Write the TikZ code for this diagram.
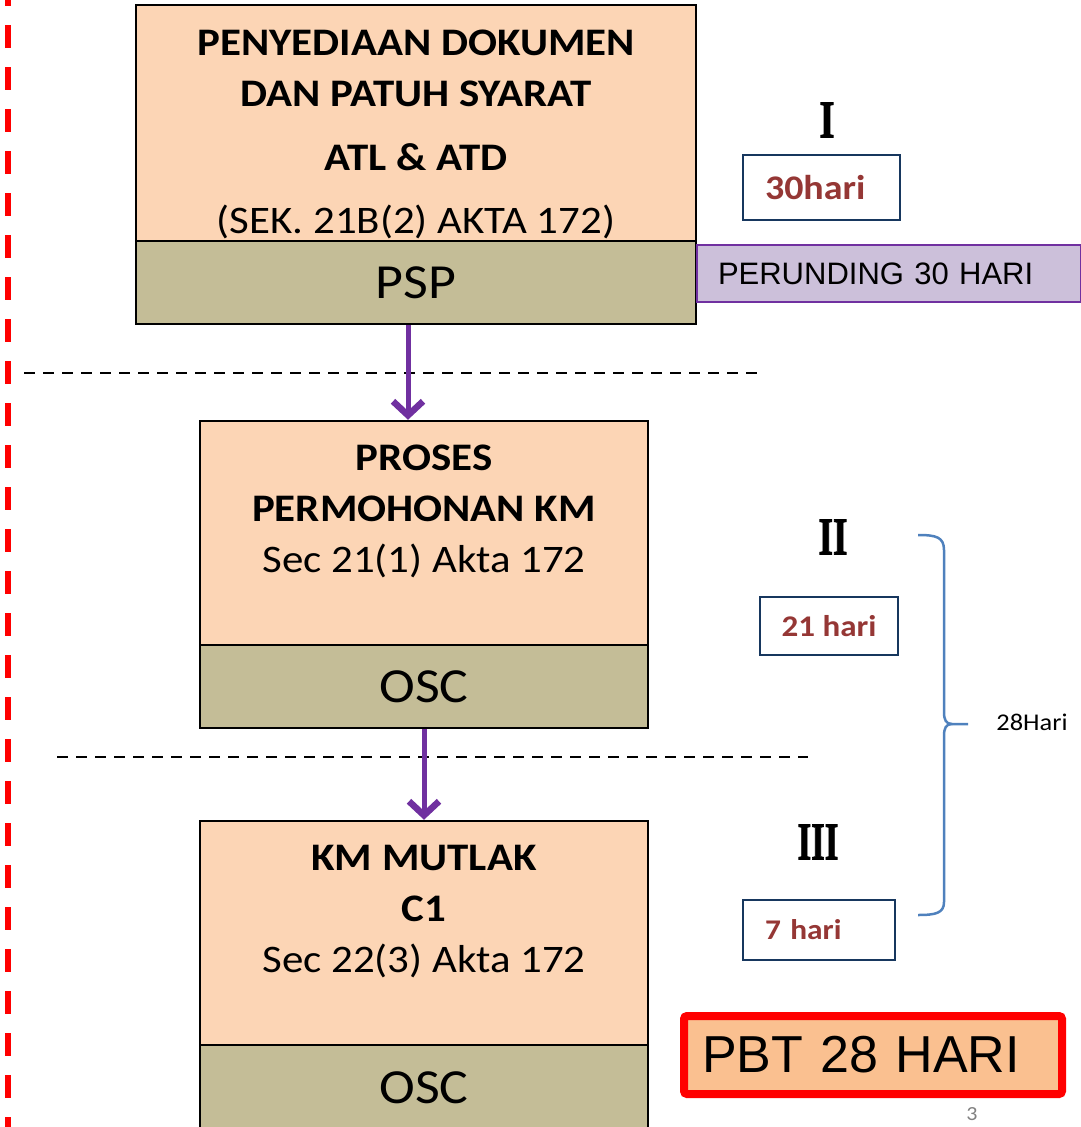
\documentclass[tikz,border=0pt]{standalone}
\usepackage{fontspec}
\setmainfont{Carlito}[FakeStretch=1.1]
\newfontfamily\arialfont{Liberation Sans}
\newfontfamily\numeralfont[FakeBold=2]{Liberation Serif Bold}
\usetikzlibrary{arrows.meta}

\definecolor{boxpeach}{HTML}{FCD5B5}
\definecolor{agencyolive}{HTML}{C4BD97}
\definecolor{lavender}{HTML}{CCC0DA}
\definecolor{flowpurple}{HTML}{7030A0}
\definecolor{harired}{HTML}{953735}
\definecolor{harinavy}{HTML}{17375E}
\definecolor{bracecol}{HTML}{4F81BD}
\definecolor{pbtorange}{HTML}{FAC090}

\tikzset{
  stepbox/.style={draw=black, line width=2.5pt, fill=boxpeach, inner sep=0pt},
  steptext/.style={anchor=north, align=center, inner sep=0pt,
    font=\fontsize{39pt}{51pt}\selectfont},
  agencybox/.style={draw=black, line width=2.5pt, fill=agencyolive, inner sep=0pt,
    font=\fontsize{49pt}{49pt}\selectfont},
  haribox/.style={draw=harinavy, line width=2.5pt, fill=white, text=harired,
    inner ysep=0pt, font=\bfseries\fontsize{30pt}{30pt}\selectfont},
  numeral/.style={inner sep=0pt, font=\numeralfont\fontsize{53pt}{53pt}\selectfont},
  flow/.style={draw=flowpurple, line width=5pt,
    -{Straight Barb[length=14pt,width=30pt,line width=6.5pt]}},
  separator/.style={line width=2.5pt, dash pattern=on 11pt off 8pt},
}

\begin{document}
\begin{tikzpicture}[x=1pt,y=-1pt]
\clip (0,0) rectangle (1081,1127);

% red margin line
\draw[red, line width=6pt, dash pattern=on 23pt off 19pt] (8,-17) -- (8,1140);

% step I
\node[stepbox, minimum width=560pt, minimum height=236pt] (dokumen) at (416,123) {};
\node[steptext] (dokumenText) at (416,30) {\bfseries PENYEDIAAN DOKUMEN\\ \bfseries DAN PATUH SYARAT\\[13pt] \bfseries ATL \& ATD\\[12pt] (SEK. 21B(2) AKTA 172)};
\node[agencybox, minimum width=560pt, minimum height=83pt] (psp) at (416,282.5) {PSP};
\node[draw=flowpurple, line width=2pt, fill=lavender, anchor=west, minimum height=57pt,
  text width=342pt, inner xsep=21pt, align=left,
  font=\arialfont\fontsize{31pt}{31pt}\selectfont] (perunding) at (696,273.5) {PERUNDING 30 HARI};

\draw[separator] (24,373) -- (760,373);

% step II
\node[stepbox, minimum width=448pt, minimum height=224pt] (proses) at (424,533) {};
\node[steptext] (prosesText) at (424,445) {\bfseries PROSES\\ \bfseries PERMOHONAN KM\\ Sec 21(1) Akta 172};
\node[agencybox, minimum width=448pt, minimum height=83pt] (oscA) at (424,686.5) {OSC};

\draw[separator] (57,757) -- (808,757);

% step III
\node[stepbox, minimum width=448pt, minimum height=224pt] (mutlak) at (424,933) {};
\node[steptext] (mutlakText) at (424,845) {\bfseries KM MUTLAK\\ \bfseries C1\\ Sec 22(3) Akta 172};
\node[agencybox, minimum width=448pt, minimum height=85pt] (oscB) at (424,1087.5) {OSC};

% flow arrows
\draw[flow] ([xshift=-8pt]psp.south) -- ([xshift=-8pt]psp.south |- proses.north);
\draw[flow] (oscA.south) -- (mutlak.north);

% durations
\node[numeral] (romanI) at (827,120) {\scalebox{0.72}[1]{I}};
\node[haribox, minimum width=157pt, minimum height=65pt, text width=113pt,
  inner xsep=22pt, align=left, font=\bfseries\fontsize{34.5pt}{35pt}\selectfont] (hariI) at (821.5,187.5) {30hari};
\node[numeral] (romanII) at (833,537) {\scalebox{0.7}[1]{II}};
\node[haribox, minimum width=138pt, minimum height=58pt] (hariII) at (829,626) {21 hari};
\node[numeral] (romanIII) at (818,842) {\scalebox{0.66}[1]{III}};
\node[haribox, minimum width=152pt, minimum height=60pt, text width=108pt,
  inner xsep=22pt, align=left, font=\bfseries\fontsize{28.5pt}{29pt}\selectfont] (hariIII) at (819,930) {7 hari};

% brace
\draw[bracecol, line width=2.5pt]
  (918,535) .. controls (936,535) and (944,537) .. (944,550) -- (944,712)
  .. controls (944,720) and (946,724) .. (952,724) -- (968,724);
\draw[bracecol, line width=2.5pt]
  (952,724) .. controls (946,724) and (944,728) .. (944,736) -- (944,902)
  .. controls (944,913) and (936,915) .. (918,915);
\node[font=\fontsize{24pt}{24pt}\selectfont] (total) at (1032,722) {28Hari};

\node[draw=red, line width=8pt, fill=pbtorange, rounded corners=3pt,
  minimum width=378pt, minimum height=78pt, text width=342pt, inner xsep=18pt, align=left,
  font=\arialfont\fontsize{52pt}{52pt}\selectfont] (pbt) at (873,1055) {PBT 28 HARI};

\node[text=gray, anchor=south, inner sep=0pt, font=\fontsize{20pt}{20pt}\selectfont] (pagenum) at (972,1121) {3};
\end{tikzpicture}
\end{document}
